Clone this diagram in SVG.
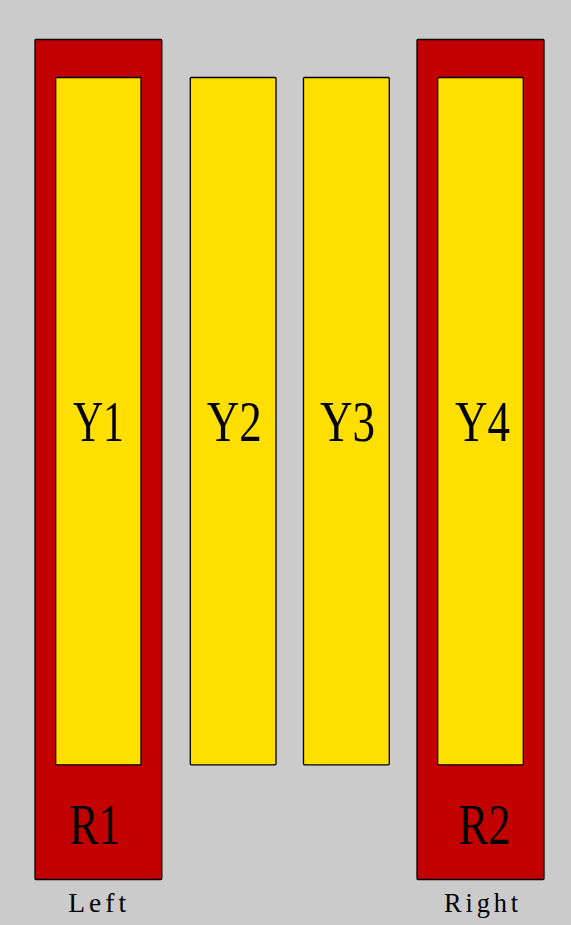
<svg xmlns="http://www.w3.org/2000/svg" width="571" height="925" viewBox="0 0 571 925">
<style>
.red{fill:#c20000;stroke:#000;stroke-width:1.3}
.yel{fill:#ffdf00;stroke:#000;stroke-width:1.3}
.big{font-family:"Liberation Serif",serif;font-size:57px;fill:#000;text-anchor:middle}
.lbl{font-family:"Liberation Serif",serif;font-size:27px;fill:#000;text-anchor:middle;letter-spacing:4px}
</style>
<rect width="571" height="925" fill="#cbcbcb"/>
<g id="R1">
<rect class="red" x="35" y="39.5" width="126.8" height="840" rx="1"/>
<text class="big" x="95" y="844" textLength="51" lengthAdjust="spacingAndGlyphs">R1</text>
</g>
<g id="R2">
<rect class="red" x="417" y="39.5" width="127" height="840" rx="1"/>
<text class="big" x="484.7" y="844" textLength="52" lengthAdjust="spacingAndGlyphs">R2</text>
</g>
<g id="Y1">
<rect class="yel" x="55.7" y="77.5" width="85.3" height="687.3" rx="1"/>
<text class="big" x="98.4" y="441" textLength="51" lengthAdjust="spacingAndGlyphs">Y1</text>
</g>
<g id="Y2">
<rect class="yel" x="190.3" y="77.5" width="85.7" height="687.3" rx="1"/>
<text class="big" x="234.2" y="441" textLength="55" lengthAdjust="spacingAndGlyphs">Y2</text>
</g>
<g id="Y3">
<rect class="yel" x="303.5" y="77.5" width="85.8" height="687.3" rx="1"/>
<text class="big" x="347.5" y="441" textLength="55" lengthAdjust="spacingAndGlyphs">Y3</text>
</g>
<g id="Y4">
<rect class="yel" x="437.7" y="77.5" width="85.6" height="687.3" rx="1"/>
<text class="big" x="482.5" y="441" textLength="55" lengthAdjust="spacingAndGlyphs">Y4</text>
</g>
<g id="labels">
<text class="lbl" x="99.2" y="911.5" textLength="62" lengthAdjust="spacingAndGlyphs">Left</text>
<text class="lbl" x="483" y="911.5" textLength="78" lengthAdjust="spacingAndGlyphs">Right</text>
</g>
</svg>
